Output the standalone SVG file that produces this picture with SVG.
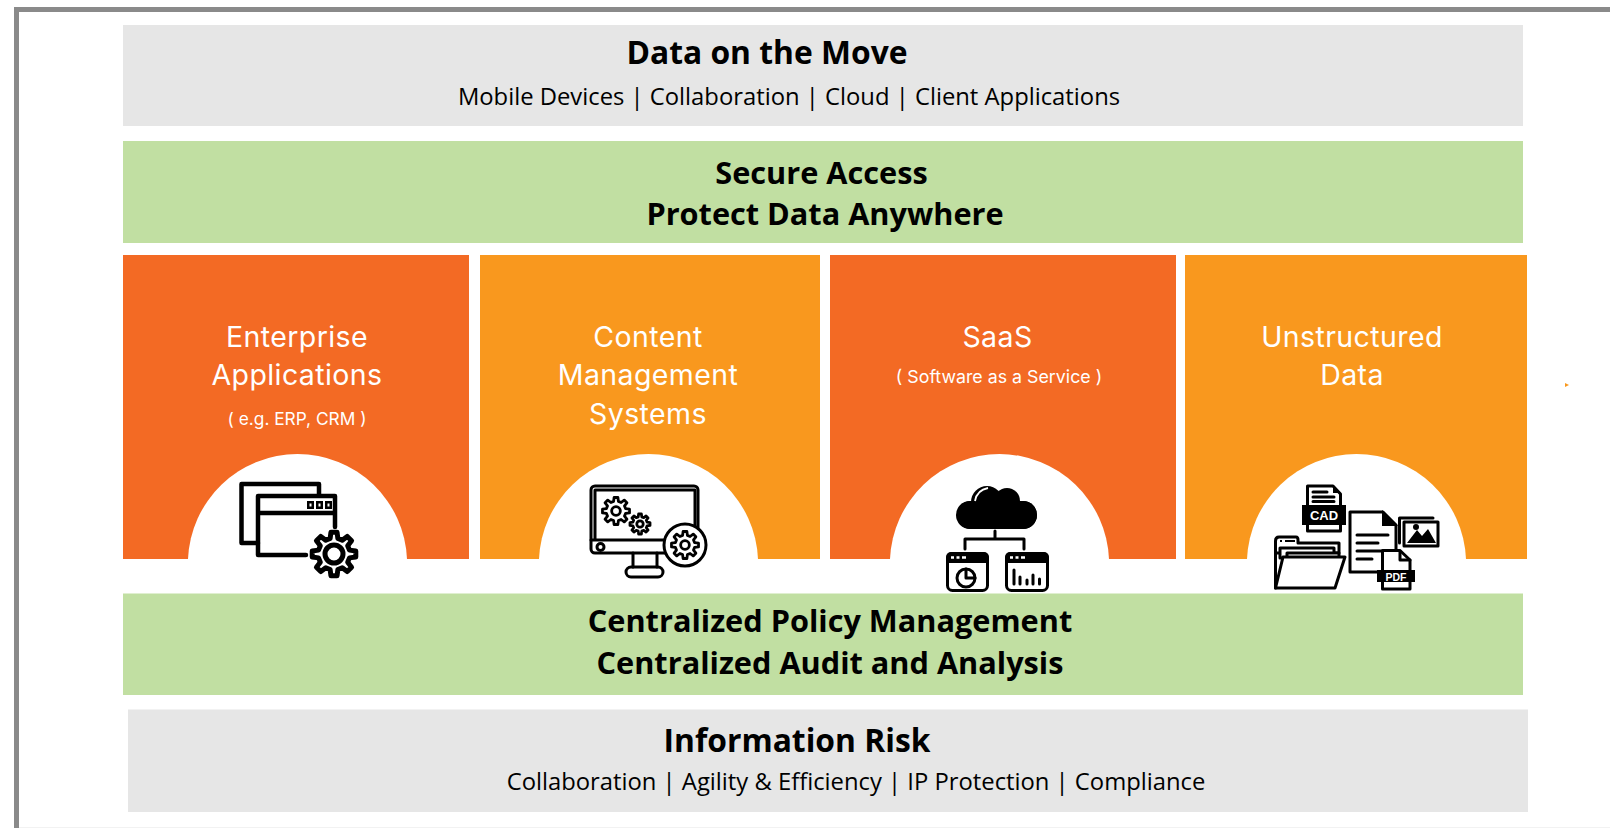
<svg xmlns="http://www.w3.org/2000/svg" width="1610" height="828" viewBox="0 0 1610 828">
<style>
.h{font-family:"Open Sans","Noto Sans",sans-serif;font-weight:700;font-size:30.700px;fill:#000;text-anchor:middle}
.hl{font-size:31.800px}
.s{font-family:"Open Sans","Noto Sans",sans-serif;font-size:23.800px;fill:#000;text-anchor:middle}
.t{font-family:"Inter","Liberation Sans",sans-serif;font-weight:400;font-size:28.500px;letter-spacing:.4px;fill:#fff;text-anchor:middle}
.u{font-family:"Inter","Liberation Sans",sans-serif;font-weight:400;font-size:17.300px;fill:#fff;text-anchor:middle}
.gr{fill:#e6e6e6}.gn{fill:#c1dfa2}.o1{fill:#f36a24}.o2{fill:#f9981e}
.a{fill:#fff}
.l{fill:none;stroke:#000;stroke-width:4.500;stroke-linejoin:round;stroke-linecap:round}
.l3{fill:none;stroke:#000;stroke-width:3;stroke-linejoin:round;stroke-linecap:round}
.w3{fill:#fff;stroke:#000;stroke-width:3;stroke-linejoin:round}
.k{fill:#000}
.wt{font-family:"Liberation Sans",Arial,sans-serif;font-weight:700;fill:#fff;text-anchor:middle}
</style>
<defs>
<path id="gear" d="M-3.870-15.500L-3.060-21.800L3.060-21.800L3.870-15.500L8.220-13.700L13.250-17.580L17.580-13.250L13.700-8.220L15.500-3.870L21.800-3.060L21.800 3.060L15.500 3.870L13.700 8.220L17.580 13.250L13.250 17.580L8.220 13.700L3.870 15.500L3.060 21.800L-3.060 21.800L-3.870 15.500L-8.220 13.700L-13.250 17.580L-17.580 13.250L-13.700 8.220L-15.500 3.870L-21.800 3.060L-21.800-3.060L-15.500-3.870L-13.700-8.220L-17.580-13.250L-13.250-17.580L-8.220-13.700Z"/>
</defs>
<rect x="0" y="0" width="1610" height="828" fill="#fff"/>
<path d="M16.500 828V9.500H1610" fill="none" stroke="#8a8a8a" stroke-width="5"/>
<rect x="19" y="827" width="1591" height="1" fill="#f2f2f2"/>
<polygon points="1565,383 1569,385 1565,387" fill="#f9981e"/>

<g id="data-on-the-move"><rect class="gr" x="123" y="25" width="1400" height="101"/>
<text class="h hl" x="767" y="64">Data on the Move</text><text class="s" x="789" y="105">Mobile Devices | Collaboration | Cloud | Client Applications</text></g>

<g id="secure-access"><rect class="gn" x="123" y="141" width="1400" height="102"/>
<text class="h" x="821.500" y="184">Secure Access</text><text class="h" x="825" y="225">Protect Data Anywhere</text></g>

<g id="enterprise-applications"><rect class="o1" x="123" y="255" width="346" height="304"/>
<path class="a" d="M188 559A109.600 109.600 0 0 1 407 559Z"/>
<text class="t" x="297" y="347">Enterprise</text><text class="t" x="297" y="385">Applications</text><text class="u" x="297" y="425">( e.g. ERP, CRM )</text>
<path class="l" d="M258 543H241.500V484H319V495"/>
<path class="l" d="M306 555H258V496H335V527M258 513H335"/>
<path class="k" d="M307 501h7v8h-7zM316 501h7v8h-7zM325 501h7v8h-7z"/>
<path fill="#fff" d="M309.500 503.500h2v3h-2zM318.500 503.500h2v3h-2zM327.500 503.500h2v3h-2z"/>
<g transform="translate(334 554)"><use href="#gear" fill="#fff" stroke="#000" stroke-width="5" stroke-linejoin="round"/><circle r="9" fill="#fff" stroke="#000" stroke-width="5"/></g></g>

<g id="content-management"><rect class="o2" x="480" y="255" width="340" height="304"/>
<path class="a" d="M539 559A109.600 109.600 0 0 1 758 559Z"/>
<text class="t" x="648" y="347">Content</text><text class="t" x="648" y="385">Management</text><text class="t" x="648" y="424">Systems</text>
<rect class="l3" x="591" y="486" width="107" height="67" rx="4"/>
<path class="l3" d="M595 540V490H695V540M591 540H680"/>
<circle cx="600.500" cy="547" r="3.500" class="l3"/>
<path class="l3" d="M633 553V567M657 553V567"/>
<rect class="l3" x="626" y="567" width="37" height="10" rx="5"/>
<g transform="translate(616 511) scale(.62)"><use href="#gear" fill="none" stroke="#000" stroke-width="4.500" stroke-linejoin="round"/><circle r="7" fill="none" stroke="#000" stroke-width="4.500"/></g>
<g transform="translate(640 524) scale(.46)"><use href="#gear" fill="none" stroke="#000" stroke-width="6" stroke-linejoin="round"/><circle r="7" fill="none" stroke="#000" stroke-width="6"/></g>
<circle class="w3" cx="685" cy="545" r="21"/>
<g transform="translate(685 545) scale(.62)"><use href="#gear" fill="none" stroke="#000" stroke-width="4.500" stroke-linejoin="round"/><circle r="7" fill="none" stroke="#000" stroke-width="4.500"/></g></g>

<g id="saas"><rect class="o1" x="830" y="255" width="346" height="304"/>
<path class="a" d="M890 559A109.600 109.600 0 0 1 1109 559Z"/>
<text class="t" x="997.500" y="347">SaaS</text><text class="u" x="999" y="383" style="font-size:17.800px">( Software as a Service )</text>
<rect class="k" x="957" y="501" width="80" height="28" rx="14"/>
<circle class="k" cx="987" cy="502" r="16"/><circle class="k" cx="1007" cy="501" r="13"/><circle class="k" cx="970" cy="515" r="14"/><circle class="k" cx="1023" cy="515" r="14"/>
<path d="M975 501Q977 490 988 488" fill="none" stroke="#fff" stroke-width="1.800"/>
<path class="l3" stroke-linecap="butt" d="M995 531V539M965 549V539H1024V549"/>
<rect class="w3" x="947.500" y="553.500" width="40" height="37" rx="5"/>
<path class="k" d="M946 563V557a5 5 0 0 1 5-5H984a5 5 0 0 1 5 5V563Z"/>
<path d="M951 557.500h3M956.500 557.500h3M962 557.500h4" stroke="#fff" stroke-width="2.500" fill="none"/>
<circle class="l3" cx="966" cy="578" r="9"/><path class="l3" d="M966 569V578H975"/>
<rect class="w3" x="1006.500" y="553.500" width="41" height="37" rx="5"/>
<path class="k" d="M1005 563V557a5 5 0 0 1 5-5H1044a5 5 0 0 1 5 5V563Z"/>
<path d="M1010 557.500h3M1015.500 557.500h3M1021 557.500h4" stroke="#fff" stroke-width="2.500" fill="none"/>
<path class="l3" d="M1014 570V584M1020 577V584M1027 580V584M1033 575V584M1039.500 579V584"/></g>

<g id="unstructured-data"><rect class="o2" x="1185" y="255" width="342" height="304"/>
<path class="a" d="M1247 559A109.600 109.600 0 0 1 1466 559Z"/>
<text class="t" x="1352" y="347">Unstructured</text><text class="t" x="1352" y="385">Data</text>
<path class="w3" d="M1307.500 486H1333L1340.500 494V531H1307.500Z"/>
<path class="k" d="M1333 485L1341 493H1333Z"/>
<path class="l3" stroke-width="2" stroke-linecap="butt" d="M1313 492H1327M1313 497H1334M1313 501.500H1334"/>
<rect class="k" x="1302" y="505" width="44" height="20"/>
<text class="wt" x="1324" y="520" font-size="13">CAD</text>
<path class="w3" d="M1350 512H1383L1396 525V572H1350Z"/>
<path class="k" d="M1382 510L1398 526H1382Z"/>
<path class="l3" stroke-linecap="butt" d="M1357 535H1388M1357 543H1378M1357 551H1388M1357 559H1372"/>
<path class="l3" d="M1399.500 543V518H1433"/>
<rect class="w3" x="1404" y="522" width="34" height="24"/>
<circle class="k" cx="1416" cy="527" r="3"/>
<path class="k" d="M1407 543L1417 530L1422 536L1428 529L1436 543Z"/>
<path class="w3" d="M1382.500 550.500H1400L1410 560V589H1382.500Z"/>
<path class="l3" d="M1400 551V560H1410"/>
<rect class="k" x="1377" y="570" width="38" height="12"/>
<text class="wt" x="1396" y="580.500" font-size="10.500">PDF</text>
<path class="w3" d="M1275.500 588V541Q1275.500 537 1279 537H1296Q1298 537 1298 540V543H1339V553H1275.500Z"/>
<path d="M1280 541h2M1285 541h10" stroke="#000" stroke-width="2" fill="none"/>
<path class="w3" d="M1280 558V548H1334V558Z"/>
<path class="w3" d="M1287 558V553H1339V558Z"/>
<path class="w3" d="M1283 557H1345L1335 588H1275.500Z"/></g>

<g id="policy-audit"><rect class="gn" x="123" y="593.500" width="1400" height="101.500"/>
<text class="h" x="830" y="631.500">Centralized Policy Management</text><text class="h" x="830" y="673.500">Centralized Audit and Analysis</text></g>

<g id="information-risk"><rect class="gr" x="128" y="709.500" width="1400" height="102.500"/>
<text class="h hl" x="797" y="752">Information Risk</text><text class="s" x="856" y="789.500">Collaboration | Agility &amp; Efficiency | IP Protection | Compliance</text></g>
</svg>
